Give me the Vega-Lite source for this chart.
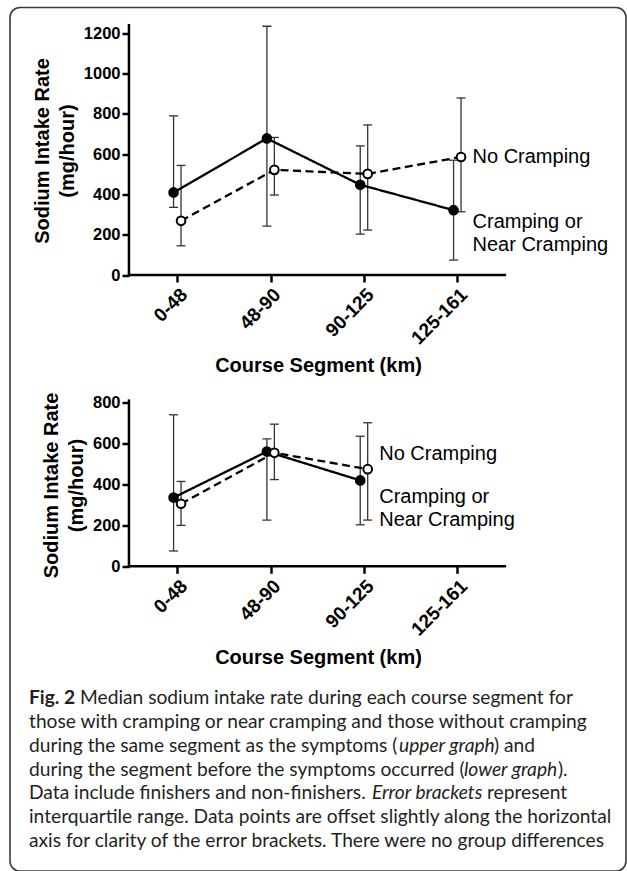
{
  "$schema": "https://vega.github.io/schema/vega-lite/v6.json",
  "width": 616,
  "height": 863.5,
  "padding": {"left": 10, "top": 7.5, "right": 1, "bottom": 0},
  "autosize": {"type": "none"},
  "background": "white",
  "config": {
    "view": {"stroke": "#3a3a3a", "strokeWidth": 1.6, "cornerRadius": 10},
    "font": "Liberation Sans"
  },
  "datasets": {
    "upper": [
      {"segment": "0-48", "group": "Cramping or Near Cramping", "xpos": -0.04, "median": 410, "q1": 336, "q3": 790},
      {"segment": "48-90", "group": "Cramping or Near Cramping", "xpos": 0.96, "median": 678, "q1": 243, "q3": 1235},
      {"segment": "90-125", "group": "Cramping or Near Cramping", "xpos": 1.96, "median": 448, "q1": 203, "q3": 641},
      {"segment": "125-161", "group": "Cramping or Near Cramping", "xpos": 2.96, "median": 322, "q1": 74, "q3": 570},
      {"segment": "0-48", "group": "No Cramping", "xpos": 0.04, "median": 269, "q1": 145, "q3": 544},
      {"segment": "48-90", "group": "No Cramping", "xpos": 1.04, "median": 522, "q1": 397, "q3": 683},
      {"segment": "90-125", "group": "No Cramping", "xpos": 2.04, "median": 502, "q1": 223, "q3": 745},
      {"segment": "125-161", "group": "No Cramping", "xpos": 3.04, "median": 586, "q1": 314, "q3": 879}
    ],
    "lower": [
      {"segment": "0-48", "group": "Cramping or Near Cramping", "xpos": -0.04, "median": 336, "q1": 75, "q3": 741},
      {"segment": "48-90", "group": "Cramping or Near Cramping", "xpos": 0.96, "median": 561, "q1": 226, "q3": 623},
      {"segment": "90-125", "group": "Cramping or Near Cramping", "xpos": 1.96, "median": 420, "q1": 203, "q3": 636},
      {"segment": "0-48", "group": "No Cramping", "xpos": 0.04, "median": 306, "q1": 200, "q3": 415},
      {"segment": "48-90", "group": "No Cramping", "xpos": 1.04, "median": 555, "q1": 424, "q3": 695},
      {"segment": "90-125", "group": "No Cramping", "xpos": 2.04, "median": 475, "q1": 226, "q3": 702}
    ],
    "upperLabels": [
      {"group": "No Cramping", "text": "No Cramping", "xpos": 3.04, "at": 587},
      {"group": "Cramping or Near Cramping", "text": ["Cramping or", "Near Cramping"], "xpos": 3.04, "at": 320}
    ],
    "lowerLabels": [
      {"group": "No Cramping", "text": "No Cramping", "xpos": 2.04, "at": 549},
      {"group": "Cramping or Near Cramping", "text": ["Cramping or", "Near Cramping"], "xpos": 2.04, "at": 393}
    ],
    "caption": [
      {"line": 1, "seg": "1a", "text": "Fig. 2"},
      {"line": 1, "seg": "1b", "text": "Median sodium intake rate during each course segment for"},
      {"line": 2, "seg": "2a", "text": "those with cramping or near cramping and those without cramping"},
      {"line": 3, "seg": "3a", "text": "during the same segment as the symptoms ("},
      {"line": 3, "seg": "3b", "text": "upper graph"},
      {"line": 3, "seg": "3c", "text": ") and"},
      {"line": 4, "seg": "4a", "text": "during the segment before the symptoms occurred ("},
      {"line": 4, "seg": "4b", "text": "lower graph"},
      {"line": 4, "seg": "4c", "text": ")."},
      {"line": 5, "seg": "5a", "text": "Data include finishers and non-finishers."},
      {"line": 5, "seg": "5b", "text": "Error brackets"},
      {"line": 5, "seg": "5c", "text": "represent"},
      {"line": 6, "seg": "6a", "text": "interquartile range. Data points are offset slightly along the horizontal"},
      {"line": 7, "seg": "7a", "text": "axis for clarity of the error brackets. There were no group differences"}
    ]
  },
  "layer": [
    {
      "layer": [
        {
          "data": {"values": [{}]},
          "mark": {"type": "rule", "color": "black", "strokeWidth": 2.5, "strokeCap": "square"},
          "encoding": {
            "x": {"datum": -0.518, "type": "quantitative", "scale": {"domain": [-1.7926, 4.8077], "nice": false, "zero": false}},
            "y": {"datum": 0, "type": "quantitative", "scale": {"domain": [-2959.0, 1328.1], "nice": false, "zero": false}},
            "y2": {"datum": 1240}
          }
        },
        {
          "data": {"values": [{}]},
          "mark": {"type": "rule", "color": "black", "strokeWidth": 2.5, "strokeCap": "square"},
          "encoding": {
            "x": {"datum": -0.518, "type": "quantitative"},
            "x2": {"datum": 3.51},
            "y": {"datum": 0, "type": "quantitative"}
          }
        },
        {
          "data": {"name": "upper"},
          "mark": {"type": "rule", "color": "#333333", "strokeWidth": 1.3},
          "encoding": {
            "x": {"field": "xpos", "type": "quantitative"},
            "y": {"field": "q1", "type": "quantitative"},
            "y2": {"field": "q3"}
          }
        },
        {
          "data": {"name": "upper"},
          "mark": {"type": "tick", "orient": "horizontal", "color": "#333333", "size": 9, "thickness": 1.3, "opacity": 1},
          "encoding": {
            "x": {"field": "xpos", "type": "quantitative"},
            "y": {"field": "q1", "type": "quantitative"}
          }
        },
        {
          "data": {"name": "upper"},
          "mark": {"type": "tick", "orient": "horizontal", "color": "#333333", "size": 9, "thickness": 1.3, "opacity": 1},
          "encoding": {
            "x": {"field": "xpos", "type": "quantitative"},
            "y": {"field": "q3", "type": "quantitative"}
          }
        },
        {
          "data": {"name": "upper"},
          "mark": {"type": "line", "color": "black", "strokeWidth": 2.3},
          "encoding": {
            "x": {"field": "xpos", "type": "quantitative"},
            "y": {"field": "median", "type": "quantitative"},
            "strokeDash": {"field": "group", "type": "nominal", "scale": {"domain": ["Cramping or Near Cramping", "No Cramping"], "range": [[1, 0], [8, 4.5]]}, "legend": null}
          }
        },
        {
          "data": {"name": "upper"},
          "mark": {"type": "point", "shape": "circle", "filled": true, "size": 75, "stroke": "black", "strokeWidth": 2, "opacity": 1},
          "encoding": {
            "x": {
              "field": "xpos", "type": "quantitative",
              "axis": {
                "orient": "bottom", "offset": -596, "values": [0, 1, 2, 3],
                "labelExpr": "['0-48','48-90','90-125','125-161'][datum.value]",
                "labelAngle": -45, "labelFontSize": 19, "labelFontWeight": "bold", "labelColor": "black",
                "labelPadding": 3, "labelFlush": false, "labelOverlap": false, "labelBound": false,
                "domain": false, "ticks": true, "tickSize": 7, "tickWidth": 2.5, "tickColor": "black", "grid": false,
                "title": "Course Segment (km)", "titleFontSize": 20, "titleFontWeight": "bold", "titleColor": "black", "titlePadding": 8
              }
            },
            "y": {
              "field": "median", "type": "quantitative",
              "axis": {
                "orient": "left", "offset": -119, "values": [0, 200, 400, 600, 800, 1000, 1200], "format": "d",
                "labelFontSize": 16.5, "labelFontWeight": "bold", "labelColor": "black", "labelPadding": 2,
                "labelFlush": false, "labelOverlap": false,
                "domain": false, "ticks": true, "tickSize": 7, "tickWidth": 2.5, "tickColor": "black", "grid": false,
                "title": ["Sodium Intake Rate", "(mg/hour)"], "titleFontSize": 20, "titleFontWeight": "bold", "titleColor": "black",
                "titleLineHeight": 25, "titlePadding": 6, "titleY": 143
              }
            },
            "fill": {"field": "group", "type": "nominal", "scale": {"domain": ["Cramping or Near Cramping", "No Cramping"], "range": ["black", "white"]}, "legend": null}
          }
        },
        {
          "data": {"name": "upperLabels"},
          "transform": [{"filter": "datum.group == 'No Cramping'"}],
          "mark": {"type": "text", "align": "left", "baseline": "middle", "dx": 11.5, "fontSize": 20, "font": "Liberation Sans", "color": "black"},
          "encoding": {
            "x": {"field": "xpos", "type": "quantitative"},
            "y": {"field": "at", "type": "quantitative"},
            "text": {"field": "text", "type": "nominal"}
          }
        },
        {
          "data": {"name": "upperLabels"},
          "transform": [{"filter": "datum.group != 'No Cramping'"}],
          "mark": {"type": "text", "align": "left", "baseline": "middle", "dx": 11.5, "dy": 11.35, "lineHeight": 22.7, "fontSize": 20, "font": "Liberation Sans", "color": "black"},
          "encoding": {
            "x": {"field": "xpos", "type": "quantitative"},
            "y": {"field": "at", "type": "quantitative"},
            "text": {"field": "text", "type": "nominal"}
          }
        }
      ]
    },
    {
      "layer": [
        {
          "data": {"values": [{}]},
          "mark": {"type": "rule", "color": "black", "strokeWidth": 2.5, "strokeCap": "square"},
          "encoding": {
            "x": {"datum": -0.518, "type": "quantitative", "scale": {"domain": [-1.7926, 4.8077], "nice": false, "zero": false}},
            "y": {"datum": 0, "type": "quantitative", "scale": {"domain": [-1490.0, 2732.5], "nice": false, "zero": false}},
            "y2": {"datum": 810}
          }
        },
        {
          "data": {"values": [{}]},
          "mark": {"type": "rule", "color": "black", "strokeWidth": 2.5, "strokeCap": "square"},
          "encoding": {
            "x": {"datum": -0.518, "type": "quantitative"},
            "x2": {"datum": 3.51},
            "y": {"datum": 0, "type": "quantitative"}
          }
        },
        {
          "data": {"name": "lower"},
          "mark": {"type": "rule", "color": "#333333", "strokeWidth": 1.3},
          "encoding": {
            "x": {"field": "xpos", "type": "quantitative"},
            "y": {"field": "q1", "type": "quantitative"},
            "y2": {"field": "q3"}
          }
        },
        {
          "data": {"name": "lower"},
          "mark": {"type": "tick", "orient": "horizontal", "color": "#333333", "size": 9, "thickness": 1.3, "opacity": 1},
          "encoding": {
            "x": {"field": "xpos", "type": "quantitative"},
            "y": {"field": "q1", "type": "quantitative"}
          }
        },
        {
          "data": {"name": "lower"},
          "mark": {"type": "tick", "orient": "horizontal", "color": "#333333", "size": 9, "thickness": 1.3, "opacity": 1},
          "encoding": {
            "x": {"field": "xpos", "type": "quantitative"},
            "y": {"field": "q3", "type": "quantitative"}
          }
        },
        {
          "data": {"name": "lower"},
          "mark": {"type": "line", "color": "black", "strokeWidth": 2.3},
          "encoding": {
            "x": {"field": "xpos", "type": "quantitative"},
            "y": {"field": "median", "type": "quantitative"},
            "strokeDash": {"field": "group", "type": "nominal", "scale": {"domain": ["Cramping or Near Cramping", "No Cramping"], "range": [[1, 0], [8, 4.5]]}, "legend": null}
          }
        },
        {
          "data": {"name": "lower"},
          "mark": {"type": "point", "shape": "circle", "filled": true, "size": 75, "stroke": "black", "strokeWidth": 2, "opacity": 1},
          "encoding": {
            "x": {
              "field": "xpos", "type": "quantitative",
              "axis": {
                "orient": "bottom", "offset": -304.7, "values": [0, 1, 2, 3],
                "labelExpr": "['0-48','48-90','90-125','125-161'][datum.value]",
                "labelAngle": -45, "labelFontSize": 19, "labelFontWeight": "bold", "labelColor": "black",
                "labelPadding": 3, "labelFlush": false, "labelOverlap": false, "labelBound": false,
                "domain": false, "ticks": true, "tickSize": 7, "tickWidth": 2.5, "tickColor": "black", "grid": false,
                "title": "Course Segment (km)", "titleFontSize": 20, "titleFontWeight": "bold", "titleColor": "black", "titlePadding": 8
              }
            },
            "y": {
              "field": "median", "type": "quantitative",
              "axis": {
                "orient": "left", "offset": -119, "values": [0, 200, 400, 600, 800], "format": "d",
                "labelFontSize": 16.5, "labelFontWeight": "bold", "labelColor": "black", "labelPadding": 2,
                "labelFlush": false, "labelOverlap": false,
                "domain": false, "ticks": true, "tickSize": 7, "tickWidth": 2.5, "tickColor": "black", "grid": false,
                "title": ["Sodium Intake Rate", "(mg/hour)"], "titleFontSize": 20, "titleFontWeight": "bold", "titleColor": "black",
                "titleLineHeight": 25, "titlePadding": 6, "titleY": 477.5
              }
            },
            "fill": {"field": "group", "type": "nominal", "scale": {"domain": ["Cramping or Near Cramping", "No Cramping"], "range": ["black", "white"]}, "legend": null}
          }
        },
        {
          "data": {"name": "lowerLabels"},
          "transform": [{"filter": "datum.group == 'No Cramping'"}],
          "mark": {"type": "text", "align": "left", "baseline": "middle", "dx": 11.5, "fontSize": 20, "font": "Liberation Sans", "color": "black"},
          "encoding": {
            "x": {"field": "xpos", "type": "quantitative"},
            "y": {"field": "at", "type": "quantitative"},
            "text": {"field": "text", "type": "nominal"}
          }
        },
        {
          "data": {"name": "lowerLabels"},
          "transform": [{"filter": "datum.group != 'No Cramping'"}],
          "mark": {"type": "text", "align": "left", "baseline": "middle", "dx": 11.5, "dy": 11.35, "lineHeight": 22.7, "fontSize": 20, "font": "Liberation Sans", "color": "black"},
          "encoding": {
            "x": {"field": "xpos", "type": "quantitative"},
            "y": {"field": "at", "type": "quantitative"},
            "text": {"field": "text", "type": "nominal"}
          }
        }
      ]
    },
    {
      "data": {"name": "caption"},
      "encoding": {
        "x": {"value": 19},
        "y": {"field": "line", "type": "ordinal", "scale": {"type": "point", "domain": [1, 2, 3, 4, 5, 6, 7], "range": [696.5, 839.5], "padding": 0}, "axis": null},
        "text": {"field": "text", "type": "nominal"}
      },
      "layer": [
        {"transform": [{"filter": "indexof(['2a','3a','4a','5a','6a','7a'], datum.seg) >= 0"}],
         "mark": {"type": "text", "font": "Lato", "fontSize": 19.2, "align": "left", "baseline": "alphabetic", "color": "#231f20"}},
        {"transform": [{"filter": "datum.seg == '1a'"}],
         "mark": {"type": "text", "font": "Lato", "fontSize": 19.2, "fontWeight": "bold", "align": "left", "baseline": "alphabetic", "color": "#231f20"}},
        {"transform": [{"filter": "datum.seg == '1b'"}],
         "mark": {"type": "text", "font": "Lato", "fontSize": 19.2, "dx": 51, "align": "left", "baseline": "alphabetic", "color": "#231f20"}},
        {"transform": [{"filter": "datum.seg == '3b'"}],
         "mark": {"type": "text", "font": "Lato", "fontSize": 19.2, "fontStyle": "italic", "dx": 370, "align": "left", "baseline": "alphabetic", "color": "#231f20"}},
        {"transform": [{"filter": "datum.seg == '3c'"}],
         "mark": {"type": "text", "font": "Lato", "fontSize": 19.2, "dx": 465, "align": "left", "baseline": "alphabetic", "color": "#231f20"}},
        {"transform": [{"filter": "datum.seg == '4b'"}],
         "mark": {"type": "text", "font": "Lato", "fontSize": 19.2, "fontStyle": "italic", "dx": 435, "align": "left", "baseline": "alphabetic", "color": "#231f20"}},
        {"transform": [{"filter": "datum.seg == '4c'"}],
         "mark": {"type": "text", "font": "Lato", "fontSize": 19.2, "dx": 529, "align": "left", "baseline": "alphabetic", "color": "#231f20"}},
        {"transform": [{"filter": "datum.seg == '5b'"}],
         "mark": {"type": "text", "font": "Lato", "fontSize": 19.2, "fontStyle": "italic", "dx": 343, "align": "left", "baseline": "alphabetic", "color": "#231f20"}},
        {"transform": [{"filter": "datum.seg == '5c'"}],
         "mark": {"type": "text", "font": "Lato", "fontSize": 19.2, "dx": 458, "align": "left", "baseline": "alphabetic", "color": "#231f20"}}
      ]
    }
  ],
  "resolve": {
    "scale": {"x": "independent", "y": "independent"},
    "axis": {"x": "independent", "y": "independent"}
  }
}
